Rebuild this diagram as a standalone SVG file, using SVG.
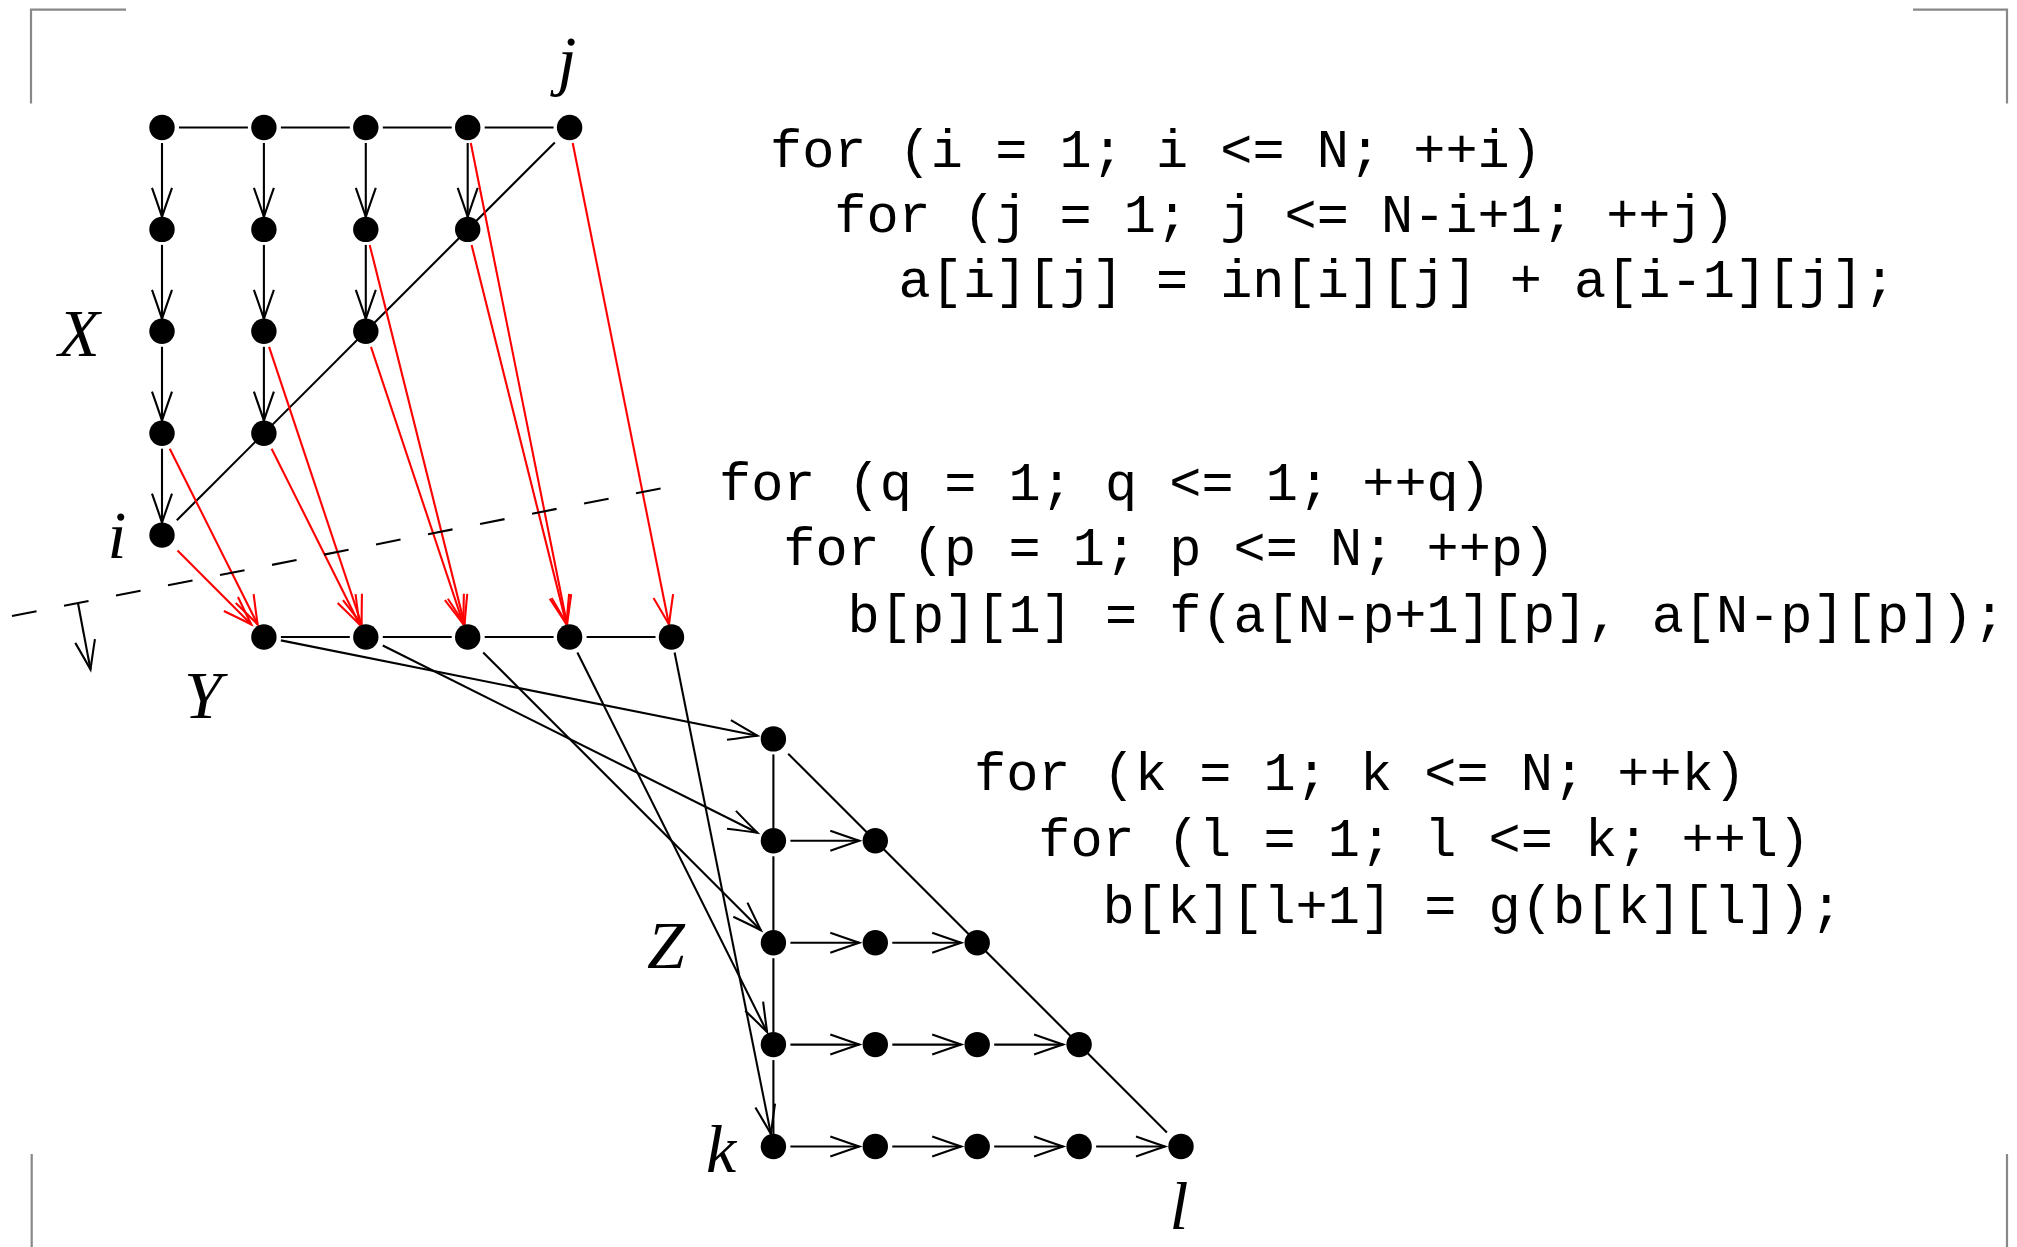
<svg xmlns="http://www.w3.org/2000/svg" width="2017" height="1247" viewBox="0 0 2017 1247">
<style>
.bg{fill:#ffffff}
.node{fill:#000000}
.e{stroke:#000000;stroke-width:2.1;fill:none}
.ea{stroke:#000000;stroke-width:2.1;fill:none;marker-end:url(#ahb)}
.er{stroke:#ff0000;stroke-width:2.1;fill:none;marker-end:url(#ahr)}
.dash{stroke:#000000;stroke-width:2.1;fill:none;stroke-dasharray:25 28}
.corner{stroke:#888888;stroke-width:2.2;fill:none}
.math{font-family:"Liberation Serif","Times New Roman",serif;font-style:italic;font-size:68px;fill:#000000;text-anchor:middle}
.code{font-family:"Liberation Mono","Courier New",monospace;font-size:53.6px;fill:#000000}
</style>
<defs>
<marker id="ahb" markerUnits="userSpaceOnUse" orient="auto" overflow="visible" markerWidth="1" markerHeight="1" refX="0" refY="0">
<path d="M-29,-10 Q-12,-4 0,0 Q-12,4 -29,10" fill="none" stroke="#000000" stroke-width="2.1"/>
</marker>
<marker id="ahr" markerUnits="userSpaceOnUse" orient="auto" overflow="visible" markerWidth="1" markerHeight="1" refX="0" refY="0">
<path d="M-29,-10 Q-12,-4 0,0 Q-12,4 -29,10" fill="none" stroke="#ff0000" stroke-width="2.1"/>
</marker>
</defs>
<rect class="bg" x="0" y="0" width="2017" height="1247"/>
<g id="corners">
<path class="corner" d="M31,103.6 V9.6 H126"/>
<path class="corner" d="M1913,9.6 H2007 V103.6"/>
<path class="corner" d="M31.7,1154 V1248"/>
<path class="corner" d="M2007,1154 V1248"/>
</g>
<g id="connectors">
<line class="e" x1="179" y1="127.5" x2="247.9" y2="127.5"/>
<line class="e" x1="280.9" y1="127.5" x2="349.8" y2="127.5"/>
<line class="e" x1="382.8" y1="127.5" x2="451.7" y2="127.5"/>
<line class="e" x1="484.7" y1="127.5" x2="553.6" y2="127.5"/>
<line class="ea" x1="162" y1="143" x2="162" y2="216.9"/>
<line class="ea" x1="162" y1="244.9" x2="162" y2="318.8"/>
<line class="ea" x1="162" y1="346.8" x2="162" y2="420.7"/>
<line class="ea" x1="162" y1="448.7" x2="162" y2="522.6"/>
<line class="ea" x1="263.9" y1="143" x2="263.9" y2="216.9"/>
<line class="ea" x1="263.9" y1="244.9" x2="263.9" y2="318.8"/>
<line class="ea" x1="263.9" y1="346.8" x2="263.9" y2="420.7"/>
<line class="ea" x1="365.8" y1="143" x2="365.8" y2="216.9"/>
<line class="ea" x1="365.8" y1="244.9" x2="365.8" y2="318.8"/>
<line class="ea" x1="467.7" y1="143" x2="467.7" y2="216.9"/>
<line class="e" x1="554.8" y1="142.4" x2="176.8" y2="520.3"/>
<line class="er" x1="177.5" y1="550.6" x2="251.4" y2="624.5"/>
<line class="er" x1="169.75" y1="448.7" x2="257.65" y2="624.5"/>
<line class="er" x1="271.65" y1="448.7" x2="359.55" y2="624.5"/>
<line class="er" x1="269.07" y1="346.8" x2="361.63" y2="624.5"/>
<line class="er" x1="370.97" y1="346.8" x2="463.53" y2="624.5"/>
<line class="er" x1="369.68" y1="244.9" x2="464.58" y2="624.5"/>
<line class="er" x1="471.58" y1="244.9" x2="566.48" y2="624.5"/>
<line class="er" x1="470.8" y1="143" x2="567.1" y2="624.5"/>
<line class="er" x1="572.7" y1="143" x2="669" y2="624.5"/>
<line class="e" x1="280.9" y1="637" x2="349.8" y2="637"/>
<line class="e" x1="382.8" y1="637" x2="451.7" y2="637"/>
<line class="e" x1="484.7" y1="637" x2="553.6" y2="637"/>
<line class="e" x1="586.6" y1="637" x2="655.5" y2="637"/>
<line class="ea" x1="280.9" y1="640.4" x2="757.4" y2="735.7"/>
<line class="ea" x1="382.8" y1="645.5" x2="757.4" y2="832.8"/>
<line class="ea" x1="483.2" y1="652.5" x2="760.9" y2="930.2"/>
<line class="ea" x1="577.35" y1="652.5" x2="767.15" y2="1032.1"/>
<line class="ea" x1="674.6" y1="652.5" x2="770.9" y2="1134"/>
<line class="e" x1="773.4" y1="754.4" x2="773.4" y2="828.3"/>
<line class="e" x1="773.4" y1="856.3" x2="773.4" y2="930.2"/>
<line class="e" x1="773.4" y1="958.2" x2="773.4" y2="1032.1"/>
<line class="e" x1="773.4" y1="1060.1" x2="773.4" y2="1134"/>
<line class="e" x1="788.2" y1="753.7" x2="1166.9" y2="1132.4"/>
<line class="ea" x1="790.4" y1="840.8" x2="859.3" y2="840.8"/>
<line class="ea" x1="790.4" y1="942.7" x2="859.3" y2="942.7"/>
<line class="ea" x1="892.3" y1="942.7" x2="961.2" y2="942.7"/>
<line class="ea" x1="790.4" y1="1044.6" x2="859.3" y2="1044.6"/>
<line class="ea" x1="892.3" y1="1044.6" x2="961.2" y2="1044.6"/>
<line class="ea" x1="994.2" y1="1044.6" x2="1063.1" y2="1044.6"/>
<line class="ea" x1="790.4" y1="1146.5" x2="859.3" y2="1146.5"/>
<line class="ea" x1="892.3" y1="1146.5" x2="961.2" y2="1146.5"/>
<line class="ea" x1="994.2" y1="1146.5" x2="1063.1" y2="1146.5"/>
<line class="ea" x1="1096.1" y1="1146.5" x2="1165" y2="1146.5"/>
<line class="dash" x1="12" y1="616" x2="673" y2="486"/>
<line class="ea" x1="78" y1="603.3" x2="90.5" y2="669.5"/>
</g>
<g id="nodes-X">
<g id="x00"><circle class="node" cx="162" cy="127.5" r="12.7"/></g>
<g id="x01"><circle class="node" cx="263.9" cy="127.5" r="12.7"/></g>
<g id="x02"><circle class="node" cx="365.8" cy="127.5" r="12.7"/></g>
<g id="x03"><circle class="node" cx="467.7" cy="127.5" r="12.7"/></g>
<g id="x04"><circle class="node" cx="569.6" cy="127.5" r="12.7"/></g>
<g id="x10"><circle class="node" cx="162" cy="229.4" r="12.7"/></g>
<g id="x11"><circle class="node" cx="263.9" cy="229.4" r="12.7"/></g>
<g id="x12"><circle class="node" cx="365.8" cy="229.4" r="12.7"/></g>
<g id="x13"><circle class="node" cx="467.7" cy="229.4" r="12.7"/></g>
<g id="x20"><circle class="node" cx="162" cy="331.3" r="12.7"/></g>
<g id="x21"><circle class="node" cx="263.9" cy="331.3" r="12.7"/></g>
<g id="x22"><circle class="node" cx="365.8" cy="331.3" r="12.7"/></g>
<g id="x30"><circle class="node" cx="162" cy="433.2" r="12.7"/></g>
<g id="x31"><circle class="node" cx="263.9" cy="433.2" r="12.7"/></g>
<g id="x40"><circle class="node" cx="162" cy="535.1" r="12.7"/></g>
</g>
<g id="nodes-Y">
<g id="y1"><circle class="node" cx="263.9" cy="637" r="12.7"/></g>
<g id="y2"><circle class="node" cx="365.8" cy="637" r="12.7"/></g>
<g id="y3"><circle class="node" cx="467.7" cy="637" r="12.7"/></g>
<g id="y4"><circle class="node" cx="569.6" cy="637" r="12.7"/></g>
<g id="y5"><circle class="node" cx="671.5" cy="637" r="12.7"/></g>
</g>
<g id="nodes-Z">
<g id="z11"><circle class="node" cx="773.4" cy="738.9" r="12.7"/></g>
<g id="z21"><circle class="node" cx="773.4" cy="840.8" r="12.7"/></g>
<g id="z22"><circle class="node" cx="875.3" cy="840.8" r="12.7"/></g>
<g id="z31"><circle class="node" cx="773.4" cy="942.7" r="12.7"/></g>
<g id="z32"><circle class="node" cx="875.3" cy="942.7" r="12.7"/></g>
<g id="z33"><circle class="node" cx="977.2" cy="942.7" r="12.7"/></g>
<g id="z41"><circle class="node" cx="773.4" cy="1044.6" r="12.7"/></g>
<g id="z42"><circle class="node" cx="875.3" cy="1044.6" r="12.7"/></g>
<g id="z43"><circle class="node" cx="977.2" cy="1044.6" r="12.7"/></g>
<g id="z44"><circle class="node" cx="1079.1" cy="1044.6" r="12.7"/></g>
<g id="z51"><circle class="node" cx="773.4" cy="1146.5" r="12.7"/></g>
<g id="z52"><circle class="node" cx="875.3" cy="1146.5" r="12.7"/></g>
<g id="z53"><circle class="node" cx="977.2" cy="1146.5" r="12.7"/></g>
<g id="z54"><circle class="node" cx="1079.1" cy="1146.5" r="12.7"/></g>
<g id="z55"><circle class="node" cx="1181" cy="1146.5" r="12.7"/></g>
</g>
<g id="labels">
<text class="math" x="567" y="83">j</text>
<text class="math" x="79" y="356">X</text>
<text class="math" x="117" y="558">i</text>
<text class="math" x="203" y="718">Y</text>
<text class="math" x="666" y="968">Z</text>
<text class="math" x="721" y="1172">k</text>
<text class="math" x="1179" y="1229">l</text>
</g>
<g id="code">
<text class="code" x="770" y="167">for (i = 1; i &lt;= N; ++i)</text>
<text class="code" x="834.3" y="232">for (j = 1; j &lt;= N-i+1; ++j)</text>
<text class="code" x="898.6" y="297">a[i][j] = in[i][j] + a[i-1][j];</text>
<text class="code" x="719" y="500">for (q = 1; q &lt;= 1; ++q)</text>
<text class="code" x="783.3" y="565">for (p = 1; p &lt;= N; ++p)</text>
<text class="code" x="847.6" y="632">b[p][1] = f(a[N-p+1][p], a[N-p][p]);</text>
<text class="code" x="974" y="790">for (k = 1; k &lt;= N; ++k)</text>
<text class="code" x="1038.3" y="856">for (l = 1; l &lt;= k; ++l)</text>
<text class="code" x="1102.6" y="923">b[k][l+1] = g(b[k][l]);</text>
</g>
</svg>
